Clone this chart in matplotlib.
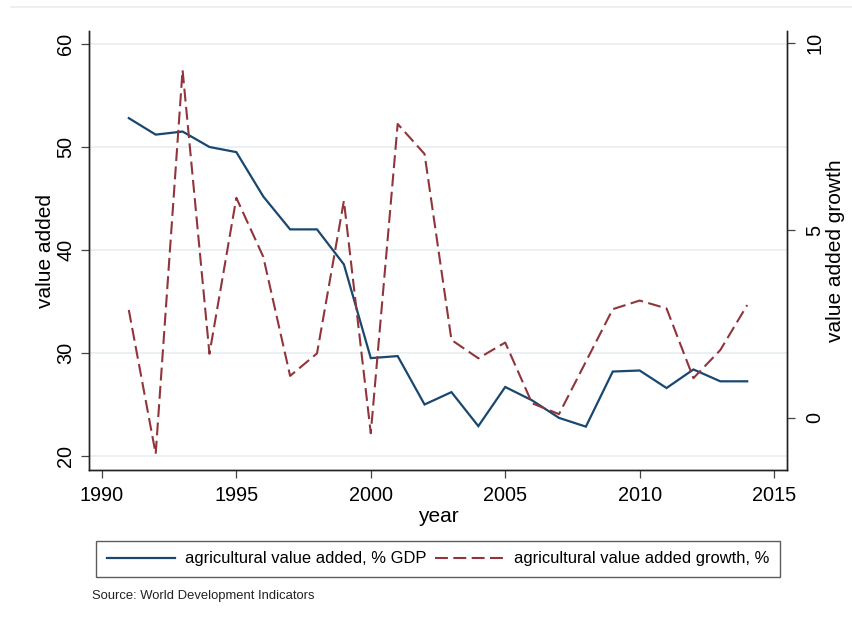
import matplotlib
matplotlib.use("Agg")
import matplotlib.pyplot as plt
from matplotlib.lines import Line2D

# -----------------------------
# Данные
# -----------------------------
years = list(range(1991, 2015))

value_added_gdp = [
    52.8, 51.2, 51.5, 50.0, 49.5, 45.2, 42.0, 42.0, 38.6, 29.5, 29.7, 25.0,
    26.2, 22.9, 26.7, 25.4, 23.7, 22.85, 28.2, 28.3, 26.6, 28.4, 27.25, 27.25,
]
value_added_growth = [
    2.88, -0.96, 9.28, 1.71, 5.87, 4.30, 1.12, 1.72, 5.79, -0.41, 7.84, 7.04,
    2.08, 1.59, 2.01, 0.39, 0.10, 1.50, 2.90, 3.13, 2.92, 1.06, 1.81, 3.01,
]

x_ticks = [1990, 1995, 2000, 2005, 2010, 2015]
left_ticks = [20, 30, 40, 50, 60]
right_ticks = [0, 5, 10]

label_gdp = "agricultural value added, % GDP"
label_growth = "agricultural value added growth, %"
source_note = "Source: World Development Indicators"

BLUE = "#1a476f"
RED = "#90353b"
GRID = "#e8eff1"
AXIS = "#222222"

plt.rcParams["font.family"] = ["Liberation Sans", "DejaVu Sans"]

W, H = 853, 626
fig = plt.figure(figsize=(W / 100, H / 100), dpi=100)
fig.patch.set_facecolor("white")

# тонкая рамка сверху, как в оригинальном Stata-графике
fig.add_artist(Line2D([11 / W, 1.0], [1 - 7 / H, 1 - 7 / H],
                      transform=fig.transFigure, color=GRID, lw=1.2))

ax = fig.add_axes([89 / W, 1 - 470 / H, (787 - 89) / W, (470 - 31) / H])
ax2 = ax.twinx()

ax.plot(years, value_added_gdp, color=BLUE, lw=1.6, label=label_gdp,
        solid_joinstyle="miter")
ax2.plot(years, value_added_growth, color=RED, lw=1.5, dashes=(6.2, 2.6),
         label=label_growth)

ax.set_xlim(1989.52, 2015.48)
ax.set_ylim(18.64, 61.26)
ax2.set_ylim(-1.39, 10.32)

ax.set_xticks(x_ticks)
ax.set_yticks(left_ticks)
ax2.set_yticks(right_ticks)

ax.grid(axis="y", color=GRID, lw=1.2)
ax.set_axisbelow(True)
for t in ax.yaxis.get_major_ticks():
    if t.get_loc() == 60:
        t.gridline.set_visible(False)

for a in (ax, ax2):
    a.spines["top"].set_visible(False)
    for s in ("left", "right", "bottom"):
        a.spines[s].set_color(AXIS)
        a.spines[s].set_linewidth(1.0)

tick_fs = 14.3
ax.tick_params(axis="x", direction="out", length=5.8, width=0.9, color="#444444",
               labelsize=tick_fs, pad=5.5)
ax.tick_params(axis="y", direction="out", length=5.8, width=0.9, color="#444444",
               labelsize=tick_fs, labelrotation=90, pad=4)
ax2.tick_params(axis="y", direction="out", length=5.8, width=0.9, color="#444444",
                labelsize=tick_fs, labelrotation=90, pad=7.5)
for lab in ax.get_yticklabels() + ax2.get_yticklabels():
    lab.set_verticalalignment("center")

ax.set_xlabel("year", fontsize=15, labelpad=2)
ax.set_ylabel("value added", fontsize=15)
ax.yaxis.set_label_coords(-0.049, 0.5)
ax2.set_ylabel("value added growth", fontsize=15)
ax2.yaxis.set_label_coords(1.056, 0.5)

handles = ax.get_lines() + ax2.get_lines()
leg = fig.legend(handles, [h.get_label() for h in handles], loc="center",
                 bbox_to_anchor=(438 / W, 1 - 559 / H), ncol=2, fontsize=11.9,
                 frameon=True, fancybox=False, handlelength=4.1,
                 handletextpad=0.65, columnspacing=0.5, borderpad=0.65)
leg.get_frame().set_edgecolor("#333333")
leg.get_frame().set_linewidth(1.0)

fig.text(92 / W, 1 - 596 / H, source_note, fontsize=9.4, color="#222222",
         ha="left", va="center")

fig.savefig("out.png", dpi=100, facecolor="white")
